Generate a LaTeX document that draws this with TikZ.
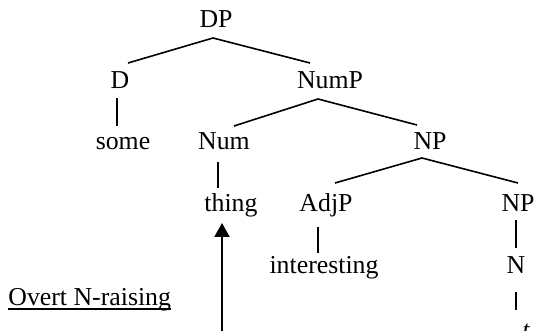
\documentclass[tikz,border=0pt]{standalone}
\usepackage{fontspec}
\setmainfont{Liberation Serif}
\usetikzlibrary{calc,arrows.meta}
\tikzset{
  lab/.style={anchor=base, inner sep=0pt, font=\fontsize{12.9}{15.5}\selectfont},
  branch/.style={line width=0.8pt},
  move/.style={line width=1pt, -{Triangle[length=7pt,width=7.5pt]}}
}
\begin{document}
\begin{tikzpicture}[x=0.5pt,y=-0.5pt]
\useasboundingbox (0,0) rectangle (535,331);
% tree labels (x = centre, y = baseline)
\node[lab] (dp) at (216,28) {DP};
\node[lab] (d) at (120,89) {D};
\node[lab] (nump) at (330,89) {NumP};
\node[lab] (some) at (123,150) {some};
\node[lab] (num) at (224,150) {Num};
\node[lab] (np) at (430,150) {NP};
\node[lab] (thing) at (231,212) {thing};
\node[lab] (adjp) at (326,212) {AdjP};
\node[lab] (np2) at (518,212) {NP};
\node[lab] (interesting) at (324,273) {interesting};
\node[lab] (n) at (516,273) {N};
\node[lab] (t) at (526,338) {\itshape t};
\node[lab, anchor=base west] (ovt) at (8,305) {Overt N-raising};
\draw[line width=0.6pt] ($(ovt.base west)+(0,4)$) -- ($(ovt.base east)+(0,4)$);
% branches
\draw[branch] ($(d.base)+(8,-26)$) -- ($(dp.base)+(-3,10)$) -- ($(nump.base)+(-20,-26)$);
\draw[branch] ($(d.base)+(-3,9)$) -- ($(some.base)+(-6,-24)$);
\draw[branch] ($(num.base)+(10,-24)$) -- ($(nump.base)+(-12,10)$) -- ($(np.base)+(-13,-25)$);
\draw[branch] ($(num.base)+(-6,12)$) -- ($(thing.base)+(-13,-24)$);
\draw[branch] ($(adjp.base)+(9,-29)$) -- ($(np.base)+(-8,8)$) -- ($(np2.base)+(0,-29)$);
\draw[branch] ($(adjp.base)+(-8,15)$) -- ($(interesting.base)+(-6,-20)$);
\draw[branch] ($(np2.base)+(-2,8)$) -- ($(n.base)+(0,-25)$);
\draw[branch] ($(n.base)+(0,19)$) -- ($(t.base)+(-10,-28)$);
% movement arrow
\coordinate (src) at (222,345);
\draw[move] (src) -- ($(thing.base)+(-9,11)$);
\end{tikzpicture}
\end{document}
